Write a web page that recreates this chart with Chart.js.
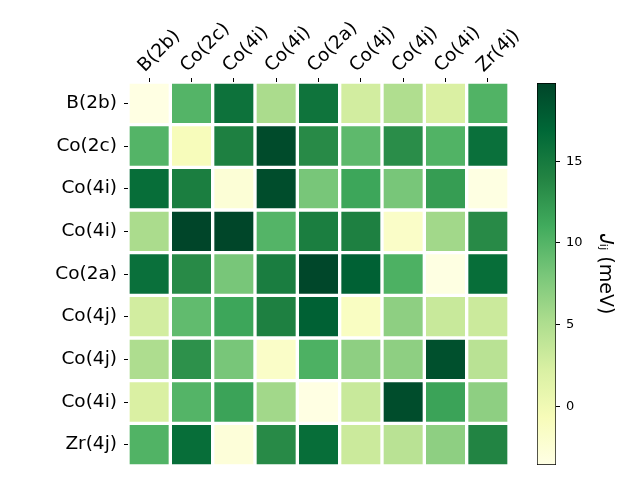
<!DOCTYPE html>
<html>
<head>
<meta charset="utf-8">
<script src="https://cdn.jsdelivr.net/npm/chart.js@4/dist/chart.umd.min.js"></script>
<style>
  body { margin: 0; background: #fff; }
  #wrap { position: relative; width: 640px; height: 480px; }
  #wrap canvas { position: absolute; left: 0; top: 0; }
</style>
</head>
<body>
<div id="wrap">
  <canvas id="heat" width="640" height="480"></canvas>
  <canvas id="cbar" width="640" height="480"></canvas>
</div>
<script>
// site labels
const colLabels = ['B(2b)', 'Co(2c)', 'Co(4i)', 'Co(4i)', 'Co(2a)', 'Co(4j)', 'Co(4j)', 'Co(4i)', 'Zr(4j)'];
const rowLabels = ['B(2b)', 'Co(2c)', 'Co(4i)', 'Co(4i)', 'Co(2a)', 'Co(4j)', 'Co(4j)', 'Co(4i)', 'Zr(4j)'];

// J_ij values (meV), one array per row
const row0 = [-3.5, 10.0, 15.8, 5.3, 15.6, 2.7, 5.0, 2.2, 10.2];
const row1 = [10.0, -0.8, 14.4, 19.3, 13.5, 9.5, 13.3, 10.2, 16.0];
const row2 = [16.3, 14.6, -2.6, 19.1, 8.1, 11.4, 8.1, 12.1, -3.4];
const row3 = [5.3, 19.8, 19.7, 10.0, 14.6, 14.4, -1.7, 5.8, 13.5];
const row4 = [16.0, 13.5, 8.1, 14.7, 19.6, 17.5, 10.4, -3.4, 16.3];
const row5 = [2.7, 9.3, 11.4, 14.4, 17.5, -1.3, 6.9, 3.4, 3.2];
const row6 = [5.1, 13.0, 8.1, -1.7, 10.4, 6.9, 6.9, 18.9, 4.4];
const row7 = [2.2, 10.0, 11.6, 5.8, -3.5, 3.4, 19.1, 11.6, 6.9];
const row8 = [10.2, 16.3, -2.8, 13.5, 16.3, 3.2, 4.4, 6.9, 14.0];
const rowsData = [row0, row1, row2, row3, row4, row5, row6, row7, row8];

// colour range of the colorbar
const vmin = -3.6;
const vmax = 19.8;
const cbTicks = [0, 5, 10, 15];

// YlGn
const ylgn = [[255,255,229],[247,252,185],[217,240,163],[173,221,142],[120,198,121],[65,171,93],[35,132,67],[0,104,55],[0,69,41]];

function cmap(t) {
  t = Math.max(0, Math.min(1, t));
  const p = t * (ylgn.length - 1);
  const i = Math.min(Math.floor(p), ylgn.length - 2);
  const f = p - i;
  const a = ylgn[i], b = ylgn[i + 1];
  const c = a.map((v, k) => Math.round(v + (b[k] - v) * f));
  return 'rgb(' + c.join(',') + ')';
}
function colorOf(v) { return cmap((v - vmin) / (vmax - vmin)); }

const FONT = 'DejaVu Sans';

const datasets = rowsData.map((vals, r) => ({
  label: rowLabels[r],
  data: vals.map(() => [r - 0.5, r + 0.5]),
  backgroundColor: vals.map(colorOf),
  borderColor: '#ffffff',
  borderWidth: 2,
  borderSkipped: false,
  grouped: false,
  barPercentage: 1,
  categoryPercentage: 1
}));

new Chart(document.getElementById('heat'), {
  type: 'bar',
  data: { labels: colLabels, datasets: datasets },
  options: {
    responsive: false,
    devicePixelRatio: 1,
    animation: false,
    layout: { padding: { left: 0, right: 131, top: 0, bottom: 14 } },
    plugins: { legend: { display: false }, tooltip: { enabled: false } },
    scales: {
      x: {
        position: 'top',
        grid: { offset: false, drawOnChartArea: false, drawTicks: true, tickLength: 4, color: '#000', tickWidth: 1 },
        border: { display: false },
        ticks: { color: '#000', font: { family: FONT, size: 18.5 }, minRotation: 45, maxRotation: 45, autoSkip: false, padding: 1, labelOffset: 8 },
        afterFit: s => { s.height = 82; s.paddingLeft = 0; s.paddingRight = 0; }
      },
      y: {
        type: 'linear',
        min: -0.5,
        max: 8.5,
        reverse: true,
        grid: { drawOnChartArea: false, drawTicks: true, tickLength: 4, color: '#000', tickWidth: 1 },
        border: { display: false },
        afterBuildTicks: s => { s.ticks = rowLabels.map((_, i) => ({ value: i })); },
        ticks: { color: '#000', font: { family: FONT, size: 18.5 }, padding: 7, callback: v => rowLabels[v] },
        afterFit: s => { s.width = 128; s.paddingTop = 0; s.paddingBottom = 0; }
      }
    }
  }
});

// colorbar
new Chart(document.getElementById('cbar'), {
  type: 'bar',
  data: {
    labels: [''],
    datasets: [{
      data: [[vmin, vmax]],
      backgroundColor: ctx => {
        const area = ctx.chart.chartArea;
        if (!area) return null;
        const g = ctx.chart.ctx.createLinearGradient(0, area.bottom, 0, area.top);
        ylgn.forEach((c, i) => g.addColorStop(i / (ylgn.length - 1), 'rgb(' + c.join(',') + ')'));
        return g;
      },
      borderColor: '#000',
      borderWidth: 1,
      borderSkipped: false,
      barPercentage: 1,
      categoryPercentage: 1
    }]
  },
  options: {
    responsive: false,
    devicePixelRatio: 1,
    animation: false,
    layout: { padding: { left: 537, right: 20, top: 83, bottom: 15 } },
    plugins: { legend: { display: false }, tooltip: { enabled: false } },
    scales: {
      x: { display: false },
      y: {
        position: 'right',
        min: vmin,
        max: vmax,
        grid: { drawOnChartArea: false, drawTicks: true, tickLength: 4, color: '#000', tickWidth: 1 },
        border: { display: false },
        afterBuildTicks: s => { s.ticks = cbTicks.map(v => ({ value: v })); },
        ticks: { color: '#000', font: { family: FONT, size: 13 }, padding: 6 },
        title: { display: true, text: '𝐽ᵢⱼ (meV)', color: '#000', font: { family: FONT, size: 19 }, padding: 4 },
        afterFit: s => { s.width = 64; s.paddingTop = 0; s.paddingBottom = 0; }
      }
    }
  }
});
</script>
</body>
</html>
